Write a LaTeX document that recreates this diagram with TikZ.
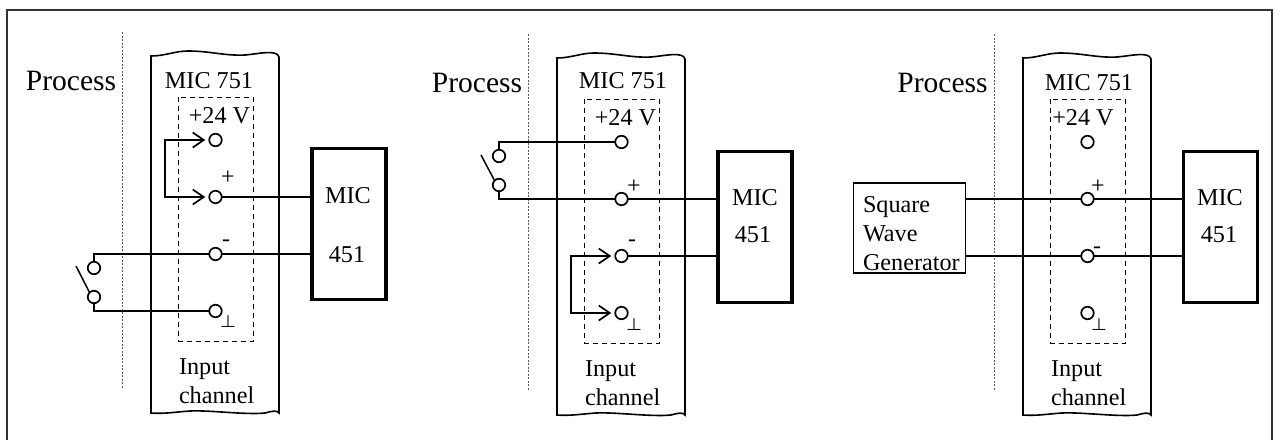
\documentclass[tikz,border=0pt]{standalone}
\usepackage{fontspec}
\setmainfont{Liberation Serif}
\usepackage{tikz}
\usetikzlibrary{positioning,calc,arrows.meta}
\definecolor{color-frame}{rgb}{0.2,0.2,0.2}
\definecolor{color-border}{rgb}{0.35,0.35,0.35}
\tikzset{
lbl/.style={inner sep=0pt,outer sep=0pt,text=black,font=\fontsize{24.2}{29}\selectfont},
bigLbl/.style={lbl,font=\fontsize{29.5}{30}\selectfont},
markLbl/.style={inner sep=0pt,outer sep=0pt,font=\fontsize{24}{24}\selectfont},
groundLbl/.style={inner sep=0pt,outer sep=0pt,font=\fontsize{16}{16}\selectfont\boldmath},
term/.style={circle,draw=black,line width=1.7pt,minimum size=12.5pt,inner sep=0pt,outer sep=0pt},
wire/.style={draw=black,line width=1.8pt},
link/.style={wire,{Straight Barb[length=11pt,width=15pt,line width=1.7pt]}-{Straight Barb[length=11pt,width=15pt,line width=1.7pt]},shorten <=4pt,shorten >=4pt},
micblock/.style={draw=black,line width=3.5pt,minimum width=74pt,minimum height=151pt,inner sep=0pt,outer sep=1.7pt},
channelbox/.style={draw=black,line width=1pt,dash pattern=on 5pt off 4pt},
borderline/.style={draw=color-border,line width=0.7pt,dash pattern=on 2pt off 1.5pt},
}
% one board with its four terminals: name, x shift, y shift
\newcommand{\micboard}[3]{
\begin{scope}[shift={(#2,#3)}]
\coordinate (#1bordertop) at (122,32);
\coordinate (#1borderend) at (122,388);
\draw[borderline] (#1bordertop) -- (#1borderend);
\draw[line width=1.6pt] (151,56) .. controls (165,56) and (175,51) .. (188,51)
.. controls (210,51) and (225,56) .. (245,55) .. controls (258,54) and (277,49) .. (279,57)
-- (279,413) .. controls (277,410) and (272,411) .. (265,413)
.. controls (245,415) and (210,410) .. (190,411) .. controls (175,412) and (165,414) .. (151,413) -- cycle;
\draw[channelbox] (178.5,97) rectangle (253,341);
\node[term] (#1v) at (215.5,140) {};
\node[term] (#1p) at (215.5,197) {};
\node[term] (#1m) at (215.5,254) {};
\node[term] (#1g) at (215.5,311) {};
\node[lbl,anchor=base west] (#1input) at (179,374) {Input};
\node[lbl,anchor=base west] (#1channel) at (179,403) {channel};
\end{scope}
}

\begin{document}
\begin{tikzpicture}[x=1pt,y=-1pt]
\useasboundingbox (0,0) rectangle (1274,440);
\coordinate (framea) at (7,440);
\coordinate (frameb) at (1272,440);
\draw[color-frame,line width=2pt] (framea) |- (1272,9.5) -- (frameb);

%first panel
\micboard{a}{0}{0}
\node[bigLbl,anchor=base] (aprocess) at (71,90) {Process};
\node[lbl,anchor=base] (aboard) at (209,88) {MIC 751};
\node[lbl,anchor=base] (asupply) at (219.5,123) {+24 V};
\node[markLbl] (aplus) at (228,178) {+};
\node[markLbl] (aminus) at (226,243) {-};
\node[groundLbl] (aground) at (228,321) {$\perp$};
\node[micblock] (amic) at (349,224) {};
\node[lbl,anchor=base] (amictop) at (348,203) {MIC};
\node[lbl,anchor=base] (amicnum) at (347,262) {451};
\draw[link] (av.west) -- ++(-44.5,0) |- (ap.west);
\draw[wire] (ap.east) -- (ap.east -| amic.west);
\draw[wire] (am.east) -- (am.east -| amic.west);
\node[term] (asa) at (94,268) {};
\node[term] (asb) at (94,297) {};
\coordinate (asfree) at (76,266);
\draw[wire] (am.west) -| (asa.north);
\draw[wire] (ag.west) -| (asb.south);
\draw[black,line width=1.5pt] (asfree) -- (asb.north west);

%second panel
\micboard{b}{406}{2}
\node[bigLbl,anchor=base] (bprocess) at (477,92) {Process};
\node[lbl,anchor=base] (bboard) at (623,88) {MIC 751};
\node[lbl,anchor=base] (bsupply) at (625.5,125) {+24 V};
\node[markLbl] (bplus) at (634,187) {+};
\node[markLbl] (bminus) at (632,243) {-};
\node[groundLbl] (bground) at (634,324) {$\perp$};
\node[micblock] (bmic) at (755,227) {};
\node[lbl,anchor=base] (bmictop) at (755,205) {MIC};
\node[lbl,anchor=base] (bmicnum) at (753,242) {451};
\draw[link] (bm.west) -- ++(-44.5,0) |- (bg.west);
\draw[wire] (bp.east) -- (bp.east -| bmic.west);
\draw[wire] (bm.east) -- (bm.east -| bmic.west);
\node[term] (bsa) at (499,156) {};
\node[term] (bsb) at (499,185) {};
\coordinate (bsfree) at (481,155);
\draw[wire] (bv.west) -| (bsa.north);
\draw[wire] (bp.west) -| (bsb.south);
\draw[black,line width=1.5pt] (bsfree) -- (bsb.north west);

%third panel
\micboard{c}{872}{2}
\node[bigLbl,anchor=base] (cprocess) at (942.5,92) {Process};
\node[lbl,anchor=base] (cboard) at (1089,90) {MIC 751};
\node[lbl,anchor=base] (csupply) at (1083,125) {+24 V};
\node[markLbl] (cplus) at (1098,187) {+};
\node[markLbl] (cminus) at (1097,250) {-};
\node[groundLbl] (cground) at (1099,324) {$\perp$};
\node[micblock] (cmic) at (1220.5,227) {};
\node[lbl,anchor=base] (cmictop) at (1220,205) {MIC};
\node[lbl,anchor=base] (cmicnum) at (1219,242) {451};
\node[draw=black,line width=1.6pt,minimum width=112pt,minimum height=90pt,inner sep=0pt] (gen) at (909.5,228) {};
\node[lbl,anchor=north west,align=left] (gentext) at (863,196) {Square\\Wave\\Generator};
\draw[wire] (cp.west) -- (cp.west -| gen.east);
\draw[wire] (cm.west) -- (cm.west -| gen.east);
\draw[wire] (cp.east) -- (cp.east -| cmic.west);
\draw[wire] (cm.east) -- (cm.east -| cmic.west);

\end{tikzpicture}
\end{document}
